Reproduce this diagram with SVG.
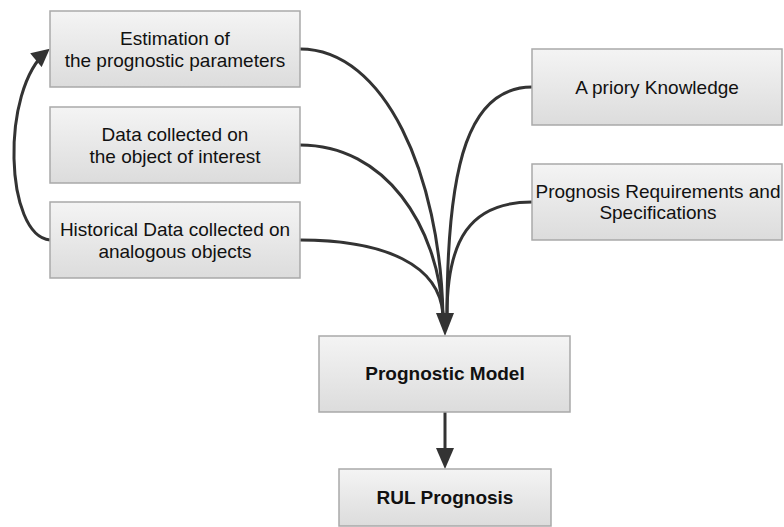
<svg xmlns="http://www.w3.org/2000/svg" width="784" height="527" viewBox="0 0 784 527">
<defs>
<linearGradient id="g" x1="0" y1="0" x2="0" y2="1">
<stop offset="0" stop-color="#f4f4f4"/>
<stop offset="1" stop-color="#dcdcdc"/>
</linearGradient>
<marker id="ah" viewBox="0 0 10 10" refX="8" refY="5" markerWidth="6.5" markerHeight="6" markerUnits="strokeWidth" orient="auto">
<path d="M0,0 L10,5 L0,10 Z" fill="#333"/>
</marker>
</defs>
<style>
.box{fill:url(#g);stroke:#a9a9a9;stroke-width:1.5}
.t{font-family:"Liberation Sans",Arial,sans-serif;font-size:19px;fill:#111;text-anchor:middle}
.b{font-weight:bold}
.c{fill:none;stroke:#333;stroke-width:3}
.h{fill:#333}
</style>
<rect width="784" height="527" fill="#fff"/>
<g id="connectors">
<path class="c" d="M300,49 C385,49 440,175 443,315"/>
<path class="c" d="M300,145 C385,145 438,225 443,315"/>
<path class="c" d="M300,240 C385,240 440,265 443,315"/>
<path class="c" d="M532,87 C470,87 447,160 447,315"/>
<path class="c" d="M532,202 C470,202 447,240 447,315"/>
<polygon class="h" points="436,313 454,313 445,336"/>
<line class="c" x1="445" y1="412" x2="445" y2="450"/>
<polygon class="h" points="436,448 454,448 445,469"/>
<path class="c" d="M50,240 C5,236 0,90 47,51" marker-end="url(#ah)"/>
</g>
<g id="n1"><rect class="box" x="50" y="11" width="250" height="76"/><text class="t" x="175" y="45">Estimation of</text><text class="t" x="175" y="67">the prognostic parameters</text></g>
<g id="n2"><rect class="box" x="50" y="107" width="250" height="76"/><text class="t" x="175" y="141">Data collected on</text><text class="t" x="175" y="163">the object of interest</text></g>
<g id="n3"><rect class="box" x="50" y="202" width="250" height="76"/><text class="t" x="175" y="236">Historical Data collected on</text><text class="t" x="175" y="258">analogous objects</text></g>
<g id="n4"><rect class="box" x="532" y="49" width="250" height="76"/><text class="t" x="657" y="94">A priory Knowledge</text></g>
<g id="n5"><rect class="box" x="532" y="164" width="250" height="76"/><text class="t" x="658" y="198">Prognosis Requirements and</text><text class="t" x="658" y="219">Specifications</text></g>
<g id="n6"><rect class="box" x="319" y="336" width="251" height="76"/><text class="t b" x="445" y="380">Prognostic Model</text></g>
<g id="n7"><rect class="box" x="339" y="469" width="212" height="57"/><text class="t b" x="445" y="504">RUL Prognosis</text></g>
</svg>
